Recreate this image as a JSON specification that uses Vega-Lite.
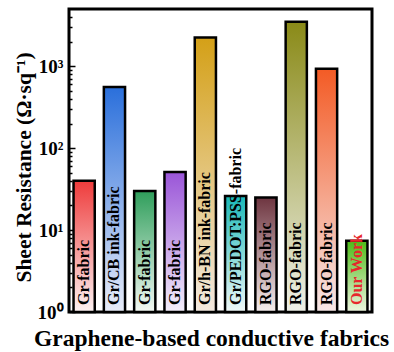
{
  "$schema": "https://vega.github.io/schema/vega-lite/v6.json",
  "autosize": "none",
  "width": 303,
  "height": 303,
  "padding": {"left": 69, "top": 9, "right": 22, "bottom": 40},
  "background": "white",
  "config": {
    "view": {"stroke": "black", "strokeWidth": 3},
    "font": "Liberation Serif"
  },
  "data": {
    "values": [
      {"id": 1, "label": "Gr-fabric", "value": 40},
      {"id": 2, "label": "Gr/CB ink-fabric", "value": 560},
      {"id": 3, "label": "Gr-fabric", "value": 30},
      {"id": 4, "label": "Gr-fabric", "value": 51},
      {"id": 5, "label": "Gr/h-BN ink-fabric", "value": 2240},
      {"id": 6, "label": "Gr/PEDOT:PSS-fabric", "value": 26},
      {"id": 7, "label": "RGO-fabric", "value": 25},
      {"id": 8, "label": "RGO-fabric", "value": 3500},
      {"id": 9, "label": "RGO-fabric", "value": 930},
      {"id": 10, "label": "Our Work", "value": 7.4}
    ]
  },
  "encoding": {
    "x": {
      "field": "id", "type": "ordinal",
      "scale": {"paddingInner": 0.3, "paddingOuter": 0.15},
      "axis": {
        "title": "Graphene-based conductive fabrics",
        "labels": false, "ticks": false, "domain": false,
        "titleFont": "Liberation Serif", "titleFontSize": 23.5, "titleFontWeight": "bold",
        "titleColor": "black", "titlePadding": 14, "titleX": 142
      }
    },
    "y": {
      "field": "value", "type": "quantitative", "stack": null,
      "scale": {"type": "log", "domain": [1, 5000], "nice": false},
      "axis": {
        "title": "Sheet Resistance (Ω·sq⁻¹)",
        "titleFont": "Liberation Serif", "titleFontSize": 21.5, "titleFontWeight": "bold",
        "titleColor": "black", "titlePadding": 2, "titleY": 158,
        "values": [1,2,3,4,5,6,7,8,9,10,20,30,40,50,60,70,80,90,100,200,300,400,500,600,700,800,900,1000,2000,3000,4000],
        "labelExpr": "datum.value == 1 ? '10⁰' : datum.value == 10 ? '10¹' : datum.value == 100 ? '10²' : datum.value == 1000 ? '10³' : ''",
        "labelFont": "Liberation Serif", "labelFontSize": 19, "labelFontWeight": "bold", "labelColor": "black",
        "labelPadding": 12,
        "tickSize": {"condition": {"test": "datum.value == 1 || datum.value == 10 || datum.value == 100 || datum.value == 1000", "value": -6}, "value": -3},
        "tickColor": "black", "tickWidth": 1.5,
        "domain": false, "grid": false
      }
    }
  },
  "layer": [
    {"transform": [{"filter": "datum.id == 1"}], "mark": {"type": "bar", "stroke": "black", "strokeWidth": 2.5, "fill": {"gradient": "linear", "x1": 0, "y1": 0, "x2": 0, "y2": 1, "stops": [{"offset": 0, "color": "#ee3b3b"}, {"offset": 1, "color": "#fdf2f2"}]}}, "encoding": {"y2": {"datum": 1}}},
    {"transform": [{"filter": "datum.id == 2"}], "mark": {"type": "bar", "stroke": "black", "strokeWidth": 2.5, "fill": {"gradient": "linear", "x1": 0, "y1": 0, "x2": 0, "y2": 1, "stops": [{"offset": 0, "color": "#2a6fdb"}, {"offset": 1, "color": "#e8ecf8"}]}}, "encoding": {"y2": {"datum": 1}}},
    {"transform": [{"filter": "datum.id == 3"}], "mark": {"type": "bar", "stroke": "black", "strokeWidth": 2.5, "fill": {"gradient": "linear", "x1": 0, "y1": 0, "x2": 0, "y2": 1, "stops": [{"offset": 0, "color": "#2f9e5b"}, {"offset": 1, "color": "#f4f9f4"}]}}, "encoding": {"y2": {"datum": 1}}},
    {"transform": [{"filter": "datum.id == 4"}], "mark": {"type": "bar", "stroke": "black", "strokeWidth": 2.5, "fill": {"gradient": "linear", "x1": 0, "y1": 0, "x2": 0, "y2": 1, "stops": [{"offset": 0, "color": "#9a55d8"}, {"offset": 1, "color": "#f3eefa"}]}}, "encoding": {"y2": {"datum": 1}}},
    {"transform": [{"filter": "datum.id == 5"}], "mark": {"type": "bar", "stroke": "black", "strokeWidth": 2.5, "fill": {"gradient": "linear", "x1": 0, "y1": 0, "x2": 0, "y2": 1, "stops": [{"offset": 0, "color": "#d4a017"}, {"offset": 1, "color": "#f3e9e0"}]}}, "encoding": {"y2": {"datum": 1}}},
    {"transform": [{"filter": "datum.id == 6"}], "mark": {"type": "bar", "stroke": "black", "strokeWidth": 2.5, "fill": {"gradient": "linear", "x1": 0, "y1": 0, "x2": 0, "y2": 1, "stops": [{"offset": 0, "color": "#1ab8b8"}, {"offset": 1, "color": "#f0f8f8"}]}}, "encoding": {"y2": {"datum": 1}}},
    {"transform": [{"filter": "datum.id == 7"}], "mark": {"type": "bar", "stroke": "black", "strokeWidth": 2.5, "fill": {"gradient": "linear", "x1": 0, "y1": 0, "x2": 0, "y2": 1, "stops": [{"offset": 0, "color": "#6e3540"}, {"offset": 1, "color": "#f5eeee"}]}}, "encoding": {"y2": {"datum": 1}}},
    {"transform": [{"filter": "datum.id == 8"}], "mark": {"type": "bar", "stroke": "black", "strokeWidth": 2.5, "fill": {"gradient": "linear", "x1": 0, "y1": 0, "x2": 0, "y2": 1, "stops": [{"offset": 0, "color": "#8a8a17"}, {"offset": 1, "color": "#eef0e8"}]}}, "encoding": {"y2": {"datum": 1}}},
    {"transform": [{"filter": "datum.id == 9"}], "mark": {"type": "bar", "stroke": "black", "strokeWidth": 2.5, "fill": {"gradient": "linear", "x1": 0, "y1": 0, "x2": 0, "y2": 1, "stops": [{"offset": 0, "color": "#f35b25"}, {"offset": 1, "color": "#f7e8e8"}]}}, "encoding": {"y2": {"datum": 1}}},
    {"transform": [{"filter": "datum.id == 10"}], "mark": {"type": "bar", "stroke": "black", "strokeWidth": 2.5, "fill": {"gradient": "linear", "x1": 0, "y1": 0, "x2": 0, "y2": 1, "stops": [{"offset": 0, "color": "#4cbb17"}, {"offset": 1, "color": "#eef6e0"}]}}, "encoding": {"y2": {"datum": 1}}},
    {
      "mark": {"type": "text", "angle": 270, "align": "left", "baseline": "middle", "dx": 7, "font": "Liberation Serif", "fontSize": 16, "fontWeight": "bold"},
      "encoding": {
        "y": {"datum": 1},
        "text": {"field": "label"},
        "color": {"condition": {"test": "datum.id == 10", "value": "#e8262c"}, "value": "black"}
      }
    }
  ]
}
